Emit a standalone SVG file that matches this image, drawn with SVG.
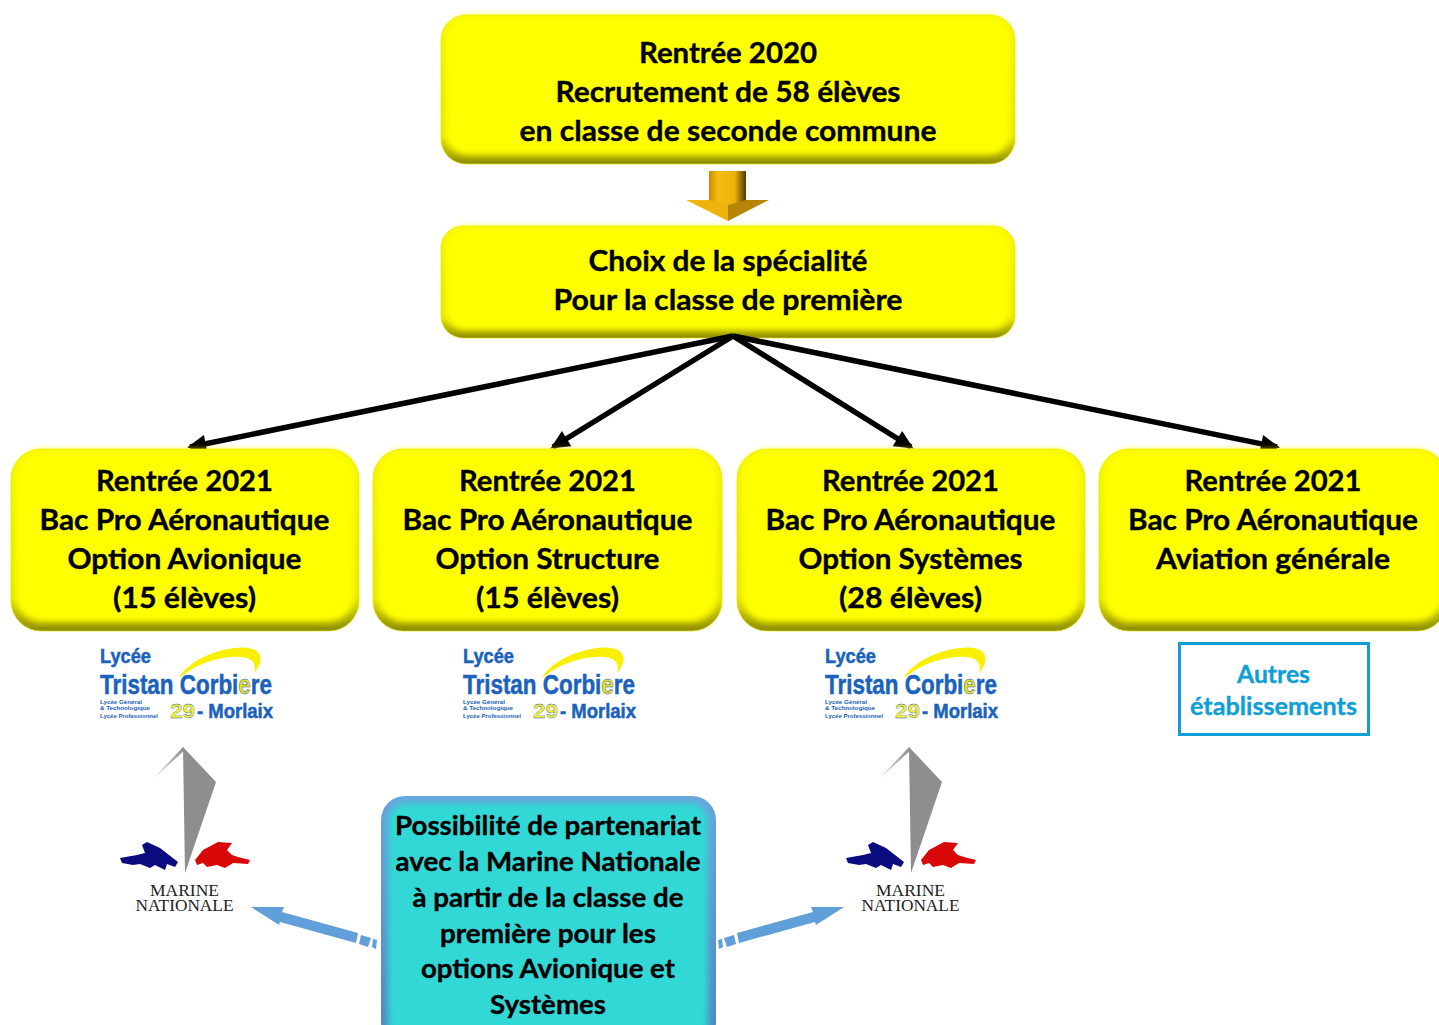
<svg xmlns="http://www.w3.org/2000/svg" xmlns:xlink="http://www.w3.org/1999/xlink" width="1439" height="1025" viewBox="0 0 1439 1025">
<style>
text{font-family:"Lato","Carlito","Liberation Sans",sans-serif;font-weight:700;text-anchor:middle;fill:#000;stroke:#000;stroke-width:.35}
.big{font-size:28.5px}
.mid{font-size:27.5px}
.aut{font-size:25px;fill:#0f9ed5;stroke:#0f9ed5}
.conn{stroke:#000;stroke-width:5.5;fill:none;marker-end:url(#head)}
.ar{fill:#619fdb}
text.ly{font-family:"Liberation Sans",sans-serif;fill:#1a62bb;stroke:#1a62bb;stroke-width:.5;text-anchor:start}
text.ls{font-family:"Liberation Sans",sans-serif;fill:#1a62bb;stroke:none;text-anchor:start}
text.mn{font-family:"Liberation Serif",serif;font-weight:400;font-size:17px;fill:#222;stroke:none}
.yb{fill:url(#yb);stroke:#e4e000;stroke-width:.7}
.yi{fill:#ffff00;filter:url(#b3)}
.ti{fill:#30d8d6;filter:url(#b3)}
</style>
<defs>
<linearGradient id="yb" x1="0" y1="0" x2="0" y2="1"><stop offset="0" stop-color="#f4f400"/><stop offset=".82" stop-color="#e2e200"/><stop offset="1" stop-color="#8c8a00"/></linearGradient>
<linearGradient id="tb" x1="0" y1="0" x2="0" y2="1"><stop offset="0" stop-color="#68a6de"/><stop offset="1" stop-color="#4f86c0"/></linearGradient>
<linearGradient id="shaft" x1="0" y1="0" x2="1" y2="0"><stop offset="0" stop-color="#c88c00"/><stop offset=".25" stop-color="#f6bd10"/><stop offset=".7" stop-color="#eeb008"/><stop offset="1" stop-color="#4e3a05"/></linearGradient>
<linearGradient id="sail" x1="0" y1="1" x2="1" y2="0"><stop offset="0" stop-color="#e0e0e0"/><stop offset="1" stop-color="#8e8e8e"/></linearGradient>
<filter id="b3" x="-5%" y="-5%" width="110%" height="110%"><feGaussianBlur stdDeviation="3"/></filter>
<marker id="head" markerUnits="userSpaceOnUse" markerWidth="24" markerHeight="22" refX="17" refY="11" orient="auto"><path d="M1 2L20 11L1 20Z" fill="#000"/></marker>
<g id="lyc">
<text class="ly" x="100" y="663" font-size="20" textLength="51" lengthAdjust="spacingAndGlyphs">Lycée</text>
<path d="M179 678C188 660 225 645 248 648C263 650 264 662 254 673C258 660 248 656 232 657C212 658 192 667 179 678Z" fill="#f8f000"/>
<text class="ly" x="100" y="694" font-size="27" textLength="172" lengthAdjust="spacingAndGlyphs">Tristan Corbi<tspan fill="#e8dc20">e</tspan>re</text>
<text class="ls" x="100" y="704" font-size="6" font-weight="700" textLength="42" lengthAdjust="spacingAndGlyphs">Lycée Général</text>
<text class="ls" x="100" y="710" font-size="6" textLength="50" lengthAdjust="spacingAndGlyphs">&amp; Technologique</text>
<text class="ls" x="100" y="718" font-size="6" textLength="58" lengthAdjust="spacingAndGlyphs">Lycée Professionnel</text>
<text class="ly" x="170" y="718" font-size="20" textLength="25" lengthAdjust="spacingAndGlyphs" style="fill:#f4ee30;stroke:#1a62bb;stroke-width:.3">29</text>
<text class="ly" x="197" y="718" font-size="20" textLength="76" lengthAdjust="spacingAndGlyphs">- Morlaix</text>
</g>
<g id="mar">
<path d="M153 779L183 747L185 750Z" fill="url(#sail)"/>
<path d="M183 747L216 782L185 873Z" fill="#8e8e8e"/>
<path d="M120 858L137 855L145 853L142 845L147 842L160 848L178 862L175 867L167 864L165 870L155 865L150 868L140 864L133 865L122 863Z" fill="#0b0b80"/>
<path d="M195 860L203 850L218 842L232 843L227 850L232 855L238 857L250 860L248 864L233 863L225 868L217 865L207 867L203 863L197 865Z" fill="#d80808"/>
<text class="mn" x="184.500" y="895.500" textLength="69" lengthAdjust="spacingAndGlyphs">MARINE</text>
<text class="mn" x="184.500" y="911" textLength="98" lengthAdjust="spacingAndGlyphs">NATIONALE</text>
</g>
</defs>
<rect width="1439" height="1025" fill="#fff"/>

<g id="n-2020">
<rect class="yb" x="441" y="15" width="574" height="149" rx="25"/>
<rect class="yi" x="445" y="16" width="566" height="139" rx="22"/>
<text class="big" x="728" y="62.500" textLength="178" lengthAdjust="spacingAndGlyphs">Rentrée 2020</text>
<text class="big" x="728" y="101.500" textLength="345" lengthAdjust="spacingAndGlyphs">Recrutement de 58 élèves</text>
<text class="big" x="728" y="140.500" textLength="417" lengthAdjust="spacingAndGlyphs">en classe de seconde commune</text>
</g>

<g id="down-arrow">
<path d="M709 171H746V206H709Z" fill="url(#shaft)"/>
<path d="M686 200H709L728 205V221Z" fill="#efb30f"/>
<path d="M769 200H746L728 205V221Z" fill="#b88408"/>
</g>

<g id="n-choix">
<rect class="yb" x="441" y="226" width="574" height="112" rx="22"/>
<rect class="yi" x="445" y="227" width="566" height="103" rx="20"/>
<text class="big" x="728" y="270.500" textLength="279" lengthAdjust="spacingAndGlyphs">Choix de la spécialité</text>
<text class="big" x="728" y="309.500" textLength="349" lengthAdjust="spacingAndGlyphs">Pour la classe de première</text>
</g>

<g id="connectors">
<path class="conn" d="M733 336L190 447"/>
<path class="conn" d="M733 336L553 447"/>
<path class="conn" d="M733 336L911 447"/>
<path class="conn" d="M733 336L1277 447"/>
<g id="blue-left" class="ar">
<path d="M251 907L284 907L282 912L358 933L356 943L280 922L279 925Z"/>
<path d="M361 935L371 938L368 947L359 944Z M373 939L377 940L376 949L372 947Z"/>
</g>
<g id="blue-right" class="ar">
<path d="M844 907L811 907L813 912L737 933L739 943L815 922L816 925Z"/>
<path d="M734 935L724 938L727 947L736 944Z M722 939L718 940L719 949L723 947Z"/>
</g>
</g>

<g id="n-avionique">
<rect class="yb" x="11" y="449" width="348" height="182" rx="30"/>
<rect class="yi" x="15" y="450" width="340" height="172" rx="27"/>
<text class="big" x="184.500" y="490.500" textLength="177" lengthAdjust="spacingAndGlyphs">Rentrée 2021</text>
<text class="big" x="184.500" y="529.500" textLength="290" lengthAdjust="spacingAndGlyphs">Bac Pro Aéronautique</text>
<text class="big" x="184.500" y="568.500" textLength="234" lengthAdjust="spacingAndGlyphs">Option Avionique</text>
<text class="big" x="184.500" y="607.500" textLength="143" lengthAdjust="spacingAndGlyphs">(15 élèves)</text>
</g>
<g id="n-structure">
<rect class="yb" x="373" y="449" width="349" height="182" rx="30"/>
<rect class="yi" x="377" y="450" width="341" height="172" rx="27"/>
<text class="big" x="547.500" y="490.500" textLength="177" lengthAdjust="spacingAndGlyphs">Rentrée 2021</text>
<text class="big" x="547.500" y="529.500" textLength="290" lengthAdjust="spacingAndGlyphs">Bac Pro Aéronautique</text>
<text class="big" x="547.500" y="568.500" textLength="224" lengthAdjust="spacingAndGlyphs">Option Structure</text>
<text class="big" x="547.500" y="607.500" textLength="143" lengthAdjust="spacingAndGlyphs">(15 élèves)</text>
</g>
<g id="n-systemes">
<rect class="yb" x="737" y="449" width="348" height="182" rx="30"/>
<rect class="yi" x="741" y="450" width="340" height="172" rx="27"/>
<text class="big" x="910.500" y="490.500" textLength="177" lengthAdjust="spacingAndGlyphs">Rentrée 2021</text>
<text class="big" x="910.500" y="529.500" textLength="290" lengthAdjust="spacingAndGlyphs">Bac Pro Aéronautique</text>
<text class="big" x="910.500" y="568.500" textLength="224" lengthAdjust="spacingAndGlyphs">Option Systèmes</text>
<text class="big" x="910.500" y="607.500" textLength="143" lengthAdjust="spacingAndGlyphs">(28 élèves)</text>
</g>
<g id="n-generale">
<rect class="yb" x="1099" y="449" width="348" height="182" rx="30"/>
<rect class="yi" x="1103" y="450" width="340" height="172" rx="27"/>
<text class="big" x="1273" y="490.500" textLength="177" lengthAdjust="spacingAndGlyphs">Rentrée 2021</text>
<text class="big" x="1273" y="529.500" textLength="290" lengthAdjust="spacingAndGlyphs">Bac Pro Aéronautique</text>
<text class="big" x="1273" y="568.500" textLength="234" lengthAdjust="spacingAndGlyphs">Aviation générale</text>
</g>

<g id="logo-lycee-1"><use xlink:href="#lyc" href="#lyc"/></g>
<g id="logo-lycee-2"><use xlink:href="#lyc" href="#lyc" x="363"/></g>
<g id="logo-lycee-3"><use xlink:href="#lyc" href="#lyc" x="725"/></g>

<g id="n-autres">
<rect x="1179.500" y="643.500" width="189" height="91" fill="#fff" stroke="#0f9ed5" stroke-width="3"/>
<text class="aut" x="1273.500" y="683" textLength="73" lengthAdjust="spacingAndGlyphs">Autres</text>
<text class="aut" x="1273.500" y="715" textLength="167" lengthAdjust="spacingAndGlyphs">établissements</text>
</g>

<g id="logo-marine-1"><use xlink:href="#mar" href="#mar"/></g>
<g id="logo-marine-2"><use xlink:href="#mar" href="#mar" x="726"/></g>

<g id="n-partenariat">
<rect x="381" y="796" width="335" height="250" rx="24" fill="url(#tb)"/>
<rect class="ti" x="388" y="803" width="320" height="240" rx="18"/>
<text class="mid" x="548" y="835" textLength="306" lengthAdjust="spacingAndGlyphs">Possibilité de partenariat</text>
<text class="mid" x="548" y="871" textLength="305" lengthAdjust="spacingAndGlyphs">avec la Marine Nationale</text>
<text class="mid" x="548" y="907" textLength="271" lengthAdjust="spacingAndGlyphs">à partir de la classe de</text>
<text class="mid" x="548" y="943" textLength="216" lengthAdjust="spacingAndGlyphs">première pour les</text>
<text class="mid" x="548" y="978" textLength="254" lengthAdjust="spacingAndGlyphs">options Avionique et</text>
<text class="mid" x="548" y="1014" textLength="116" lengthAdjust="spacingAndGlyphs">Systèmes</text>
</g>
</svg>
